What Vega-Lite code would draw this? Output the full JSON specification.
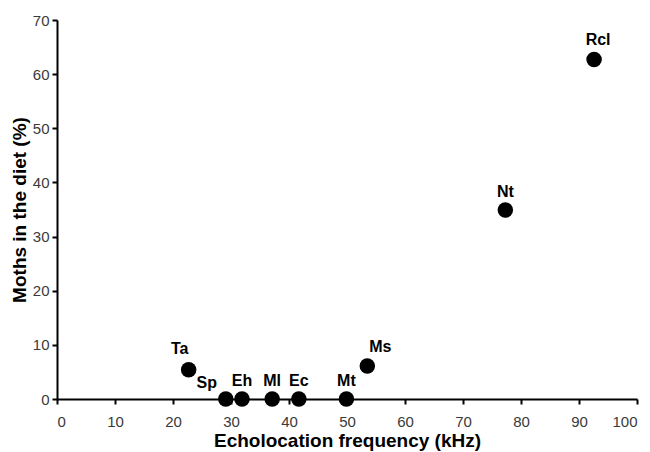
{
  "$schema": "https://vega.github.io/schema/vega-lite/v6.json",
  "autosize": "none",
  "width": 580,
  "height": 379,
  "padding": {"left": 57, "top": 20, "right": 13, "bottom": 53},
  "background": "white",
  "config": {
    "view": {"stroke": null},
    "font": "Liberation Sans",
    "axis": {
      "grid": false,
      "domainColor": "black",
      "domainWidth": 2,
      "tickColor": "black",
      "tickWidth": 2,
      "tickSize": 5,
      "labelFont": "Liberation Sans",
      "labelFontSize": 15,
      "labelColor": "#3a3a3a",
      "titleFont": "Liberation Sans",
      "titleFontSize": 19,
      "titleFontWeight": "bold",
      "titleColor": "black"
    }
  },
  "data": {
    "values": [
      {"bat": "Ta", "freq": 22.7, "moths": 5.4},
      {"bat": "Sp", "freq": 29.1, "moths": 0},
      {"bat": "Eh", "freq": 31.9, "moths": 0},
      {"bat": "Ml", "freq": 37.1, "moths": 0},
      {"bat": "Ec", "freq": 41.7, "moths": 0},
      {"bat": "Mt", "freq": 49.9, "moths": 0},
      {"bat": "Ms", "freq": 53.5, "moths": 6.1},
      {"bat": "Nt", "freq": 77.3, "moths": 34.9},
      {"bat": "Rcl", "freq": 92.6, "moths": 62.7}
    ]
  },
  "encoding": {
    "x": {
      "field": "freq",
      "type": "quantitative",
      "scale": {"domain": [0, 100], "nice": false},
      "axis": {"values": [0,10,20,30,40,50,60,70,80,90,100], "title": "Echolocation frequency (kHz)", "labelPadding": 10, "titlePadding": 2}
    },
    "y": {
      "field": "moths",
      "type": "quantitative",
      "scale": {"domain": [0, 70], "nice": false},
      "axis": {"values": [0,10,20,30,40,50,60,70], "title": "Moths in the diet (%)", "labelPadding": 3, "titlePadding": 3}
    }
  },
  "layer": [
    {"mark": {"type": "point", "filled": true, "shape": "circle", "size": 240, "color": "black", "opacity": 1}},
    {
      "transform": [{"filter": "indexof(['Eh','Ml','Ec','Mt','Nt'], datum.bat) >= 0"}],
      "mark": {"type": "text", "fontWeight": "bold", "fontSize": 16, "color": "black", "dy": -18},
      "encoding": {"text": {"field": "bat"}}
    },
    {
      "transform": [{"filter": "datum.bat == 'Ta'"}],
      "mark": {"type": "text", "fontWeight": "bold", "fontSize": 16, "color": "black", "dx": -9, "dy": -21},
      "encoding": {"text": {"field": "bat"}}
    },
    {
      "transform": [{"filter": "datum.bat == 'Sp'"}],
      "mark": {"type": "text", "fontWeight": "bold", "fontSize": 16, "color": "black", "dx": -19, "dy": -16},
      "encoding": {"text": {"field": "bat"}}
    },
    {
      "transform": [{"filter": "datum.bat == 'Ms'"}],
      "mark": {"type": "text", "fontWeight": "bold", "fontSize": 16, "color": "black", "dx": 13, "dy": -19},
      "encoding": {"text": {"field": "bat"}}
    },
    {
      "transform": [{"filter": "datum.bat == 'Rcl'"}],
      "mark": {"type": "text", "fontWeight": "bold", "fontSize": 16, "color": "black", "dx": 4, "dy": -20},
      "encoding": {"text": {"field": "bat"}}
    }
  ]
}
